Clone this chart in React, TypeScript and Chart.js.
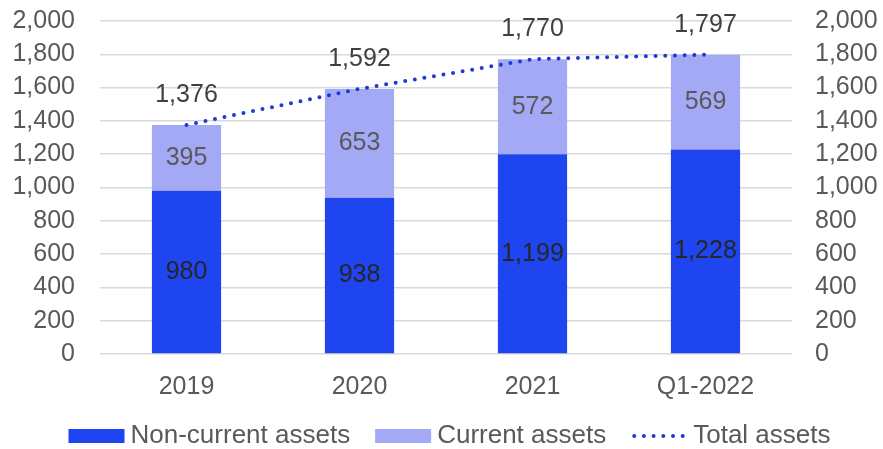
import React, { useEffect, useRef } from "react";
import { Chart, registerables } from "chart.js";

Chart.register(...registerables);

const categories = ["2019", "2020", "2021", "Q1-2022"];
const nonCurrentAssets = [980, 938, 1199, 1228];
const currentAssets = [395, 653, 572, 569];
const totalAssets = [1376, 1592, 1770, 1797];
const seriesNames = ["Non-current assets", "Current assets", "Total assets"];
const axisMin = 0;
const axisMax = 2000;
const axisStep = 200;

const FONT = '"Liberation Sans", Arial, sans-serif';
const C_DARK = "#1f45f0";
const C_LIGHT = "#a3a9f5";
const C_LINE = "#1b3bd4";
const C_TICK = "#595959";

const fmt = (v: number) => Number(v).toLocaleString("en-US");

const valueLabels = {
  id: "valueLabels",
  afterDatasetsDraw(chart: any) {
    const ctx = chart.ctx;
    ctx.save();
    ctx.font = `25px ${FONT}`;
    ctx.textAlign = "center";
    ctx.textBaseline = "middle";
    [0, 1].forEach((di) => {
      const meta = chart.getDatasetMeta(di);
      meta.data.forEach((bar: any, i: number) => {
        const p = bar.getProps(["x", "y", "base"], true);
        ctx.fillStyle = di === 0 ? "#262626" : "#595959";
        ctx.fillText(fmt(chart.data.datasets[di].data[i]), p.x, (p.y + p.base) / 2);
      });
    });
    const lm = chart.getDatasetMeta(2);
    lm.data.forEach((pt: any, i: number) => {
      ctx.fillStyle = "#404040";
      ctx.fillText(fmt(chart.data.datasets[2].data[i]), pt.x, pt.y - 30);
    });
    ctx.restore();
  },
};

const customLegend = {
  id: "customLegend",
  afterDraw(chart: any) {
    const ctx = chart.ctx;
    ctx.save();
    ctx.font = `26px ${FONT}`;
    ctx.textBaseline = "middle";
    ctx.textAlign = "left";
    const cy = chart.height - 13;
    const boxW = 56;
    const boxH = 14;
    const gap = 6;
    const itemGap = 25;
    const widths = seriesNames.map((n) => ctx.measureText(n).width);
    const total = widths.reduce((a, w) => a + boxW + gap + w, 0) + itemGap * (seriesNames.length - 1);
    let x = chart.width / 2 + 8 - total / 2;
    seriesNames.forEach((name, i) => {
      if (i < 2) {
        ctx.fillStyle = i === 0 ? C_DARK : C_LIGHT;
        ctx.fillRect(x, cy - boxH / 2, boxW, boxH);
      } else {
        ctx.strokeStyle = C_LINE;
        ctx.lineWidth = 4;
        ctx.lineCap = "round";
        ctx.setLineDash([0, 9.7]);
        ctx.beginPath();
        ctx.moveTo(x + 3, cy);
        ctx.lineTo(x + boxW - 2, cy);
        ctx.stroke();
        ctx.setLineDash([]);
      }
      ctx.fillStyle = C_TICK;
      ctx.fillText(name, x + boxW + gap, cy);
      x += boxW + gap + widths[i] + itemGap;
    });
    ctx.restore();
  },
};

export default function App() {
  const ref = useRef<HTMLCanvasElement>(null);
  useEffect(() => {
    const tickFont = { family: FONT, size: 25 };
    const chart = new Chart(ref.current as HTMLCanvasElement, {
      type: "bar",
      data: {
        labels: categories,
        datasets: [
          {
            type: "bar",
            label: seriesNames[0],
            data: nonCurrentAssets,
            backgroundColor: C_DARK,
            barPercentage: 0.4,
            categoryPercentage: 1,
            order: 1,
            yAxisID: "y",
          },
          {
            type: "bar",
            label: seriesNames[1],
            data: currentAssets,
            backgroundColor: C_LIGHT,
            barPercentage: 0.4,
            categoryPercentage: 1,
            order: 1,
            yAxisID: "y",
          },
          {
            type: "line",
            label: seriesNames[2],
            data: totalAssets,
            borderColor: C_LINE,
            borderWidth: 4,
            borderDash: [0, 9.7],
            borderCapStyle: "round",
            pointRadius: 0,
            tension: 0,
            fill: false,
            order: 0,
            yAxisID: "y2",
          } as any,
        ],
      },
      options: {
        animation: false,
        responsive: true,
        maintainAspectRatio: false,
        layout: { padding: { left: 5, right: 0, top: 0, bottom: 49 } },
        plugins: { legend: { display: false }, tooltip: { enabled: false } },
        scales: {
          x: {
            stacked: true,
            grid: { display: false, drawTicks: false },
            border: { display: false },
            ticks: { font: tickFont, color: C_TICK, padding: 18 },
            afterFit: (s: any) => {
              s.height = 46;
            },
          },
          y: {
            stacked: true,
            position: "left",
            min: axisMin,
            max: axisMax,
            grid: { color: "#d9d9d9", lineWidth: 1.5, drawTicks: false },
            border: { display: false },
            ticks: {
              stepSize: axisStep,
              autoSkip: false,
              font: tickFont,
              color: C_TICK,
              padding: 25,
              callback: (v: any) => fmt(v),
            },
            afterFit: (s: any) => {
              s.width = 95;
              s.paddingTop = 21;
              s.paddingBottom = 0;
            },
          },
          y2: {
            position: "right",
            min: axisMin,
            max: axisMax,
            grid: { display: false, drawTicks: false },
            border: { display: false },
            ticks: {
              stepSize: axisStep,
              autoSkip: false,
              font: tickFont,
              color: C_TICK,
              padding: 23,
              callback: (v: any) => fmt(v),
            },
            afterFit: (s: any) => {
              s.width = 91;
              s.paddingTop = 21;
              s.paddingBottom = 0;
            },
          },
        },
      },
      plugins: [valueLabels, customLegend],
    });
    return () => chart.destroy();
  }, []);
  return (
    <div style={{ position: "fixed", left: 0, top: 0, width: 883, height: 449, background: "#fff" }}>
      <canvas ref={ref} />
    </div>
  );
}
